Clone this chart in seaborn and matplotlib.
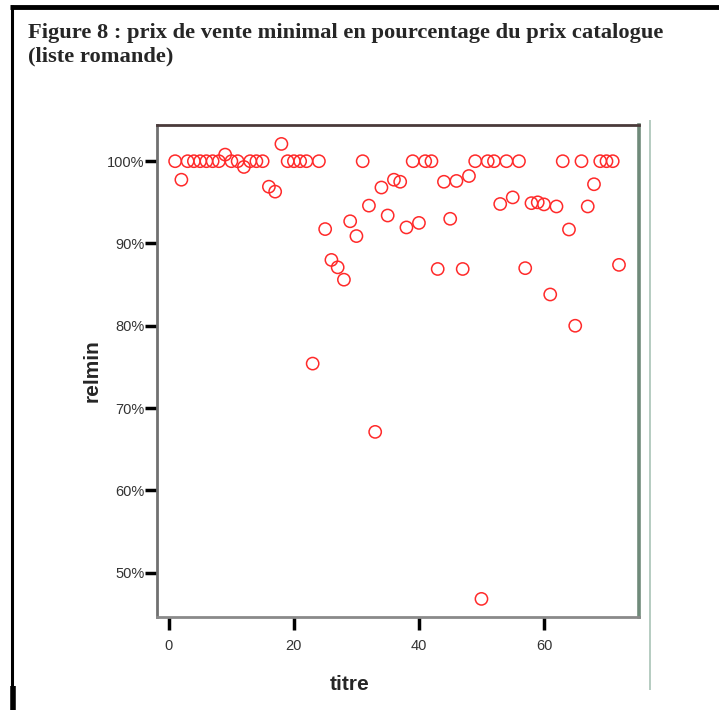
import matplotlib
matplotlib.use("Agg")
import matplotlib.pyplot as plt
import matplotlib.lines as mlines
from matplotlib.ticker import PercentFormatter
import seaborn as sns
import pandas as pd

# ---- data ----
titre = list(range(1, 73))
relmin = [100, 97.75, 100, 100, 100, 100, 100, 100, 100.8, 100,
          100, 99.3, 100, 100, 100, 96.9, 96.3, 102.1, 100, 100,
          100, 100, 75.4, 100, 91.75, 88.0, 87.1, 85.6, 92.7, 90.9,
          100, 94.6, 67.1, 96.8, 93.4, 97.75, 97.5, 91.95, 100, 92.5,
          100, 100, 86.9, 97.5, 93.0, 97.6, 86.9, 98.2, 100, 46.8,
          100, 100, 94.8, 100, 95.6, 100, 87.0, 94.9, 95.0, 94.75,
          83.8, 94.5, 100, 91.7, 80.0, 100, 94.5, 97.2, 100, 100,
          100, 87.4]
x_ticks = [0, 20, 40, 60]
y_ticks = [50, 60, 70, 80, 90, 100]
title = "Figure 8 : prix de vente minimal en pourcentage du prix catalogue\n(liste romande)"

df = pd.DataFrame({"titre": titre, "relmin": relmin})

sns.set_style("white")
plt.rcParams["font.family"] = ["Liberation Sans", "DejaVu Sans"]

W, H = 719, 710
fig = plt.figure(figsize=(W / 100, H / 100), dpi=100)
fig.patch.set_facecolor("white")

L, R, T, B = 157, 639, 125, 617
ax = fig.add_axes([L / W, 1 - B / H, (R - L) / W, (B - T) / H])

sns.scatterplot(data=df, x="titre", y="relmin", ax=ax, marker="o",
                s=78, facecolor="none", edgecolor="#ff2a2a", linewidth=1.1,
                legend=False)

ax.set_xlim(-1.9, 75.2)
ax.set_ylim(44.6, 104.4)
ax.set_xticks(x_ticks)
ax.set_yticks(y_ticks)
ax.yaxis.set_major_formatter(PercentFormatter(decimals=0))
ax.tick_params(axis="both", direction="out", length=9, width=2.5,
               color="black", labelsize=10.5, labelcolor="#333333", pad=0,
               bottom=True, left=True)
ax.tick_params(axis="x", pad=7)

for side, col, lw in [("left", "#707070", 2.0), ("bottom", "#8a8a8a", 2.0),
                      ("top", "#4a3a3a", 2.0), ("right", "#6f8a7a", 2.6)]:
    ax.spines[side].set_visible(True)
    ax.spines[side].set_color(col)
    ax.spines[side].set_linewidth(lw)

ax.set_xlabel("titre", fontsize=15, fontweight="bold")
ax.set_ylabel("relmin", fontsize=15, fontweight="bold")
ax.xaxis.set_label_coords((350 - L) / (R - L), -(685 - B) / (B - T))
ax.yaxis.set_label_coords(-(L - 92) / (R - L), 0.5)
ax.xaxis.label.set_va("center")
ax.yaxis.label.set_va("center")

# title
fig.text(28 / W, 1 - 23 / H, title, ha="left", va="top",
         fontsize=16.2, fontweight="bold", family=["Liberation Serif", "DejaVu Serif"],
         linespacing=1.2)

# page decoration lines
def px_line(x0, y0, x1, y1, lw, color):
    fig.add_artist(mlines.Line2D([x0 / W, x1 / W], [1 - y0 / H, 1 - y1 / H],
                                 transform=fig.transFigure, color=color, lw=lw,
                                 solid_capstyle="butt"))

px_line(10, 7, 719, 7, 3.5, "black")
px_line(11.5, 5, 11.5, 688, 2.2, "black")
px_line(12.5, 686, 12.5, 710, 4.0, "black")
px_line(650, 120, 650, 690, 1.2, "#a9c4b6")

fig.savefig("out.png", dpi=100, facecolor="white")
